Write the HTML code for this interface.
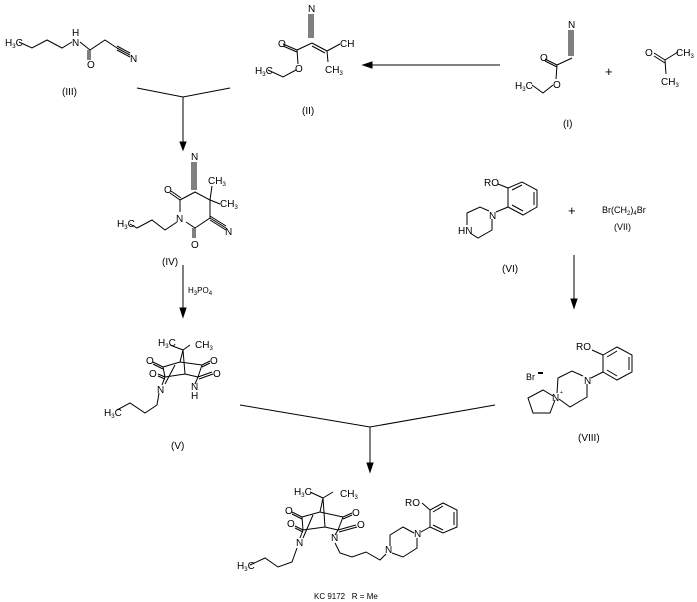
<!DOCTYPE html>
<html><head><meta charset="utf-8"><style>
html,body{margin:0;padding:0;background:#fff;}
svg{display:block;}
text{font-family:"Liberation Sans",Arial,sans-serif;font-size:10px;fill:#000;}
.s{font-size:6px;}
</style></head><body>
<svg width="697" height="602" viewBox="0 0 697 602" xmlns="http://www.w3.org/2000/svg">
<g stroke="#000" stroke-width="1" fill="none">
<!-- III -->
<polyline points="19,42 32,48 47,40 62,48 72,42"/>
<polyline points="80,42 90,50 105,40 117,48"/>
<line x1="90" y1="50" x2="90" y2="60"/><line x1="88" y1="50" x2="88" y2="60"/>
<line x1="117" y1="48" x2="130" y2="55"/><line x1="117" y1="46" x2="130" y2="53"/><line x1="117" y1="50" x2="130" y2="57"/>
<!-- fork to IV -->
<polyline points="137,88 183,97 230,88"/><line x1="183" y1="97" x2="183" y2="148"/>
<path d="M180,142 L183,150 L186,142 Z" fill="#000"/>
<!-- II -->
<line x1="311" y1="14" x2="311" y2="38"/><line x1="313" y1="14" x2="313" y2="38"/><line x1="309" y1="14" x2="309" y2="38"/>
<line x1="312" y1="43" x2="297" y2="50"/><line x1="297" y1="50" x2="283" y2="44"/><line x1="297" y1="52" x2="283" y2="46"/>
<line x1="297" y1="50" x2="298" y2="64"/><polyline points="296,70 283,77 268,70"/>
<line x1="312" y1="43" x2="327" y2="51"/><line x1="312" y1="46" x2="325" y2="53"/>
<line x1="327" y1="51" x2="340" y2="44"/><line x1="327" y1="51" x2="328" y2="62"/>
<!-- arrow I->II -->
<line x1="500" y1="65" x2="366" y2="65"/><path d="M372,62 L363,65 L372,68 Z" fill="#000"/>
<!-- I -->
<line x1="571" y1="30" x2="571" y2="56"/><line x1="573" y1="30" x2="573" y2="56"/><line x1="569" y1="30" x2="569" y2="56"/>
<line x1="572" y1="58" x2="557" y2="65"/><line x1="557" y1="65" x2="545" y2="59"/><line x1="557" y1="67" x2="545" y2="61"/>
<line x1="557" y1="65" x2="556" y2="79"/><polyline points="553,85 543,93 532,85"/>
<!-- acetone -->
<line x1="654" y1="53" x2="665" y2="60"/><line x1="654" y1="56" x2="665" y2="63"/>
<line x1="665" y1="60" x2="678" y2="52"/><line x1="665" y1="60" x2="666" y2="74"/>
<!-- IV -->
<line x1="194" y1="162" x2="194" y2="190"/><line x1="196" y1="162" x2="196" y2="190"/><line x1="192" y1="162" x2="192" y2="190"/>
<polyline points="180,200 195,192 210,200 210,218 195,228"/>
<line x1="180" y1="200" x2="180" y2="212"/><line x1="195" y1="228" x2="186" y2="222"/>
<line x1="180" y1="200" x2="170" y2="193"/><line x1="181" y1="198" x2="171" y2="191"/>
<line x1="195" y1="228" x2="195" y2="238"/><line x1="193" y1="228" x2="193" y2="238"/>
<line x1="210" y1="200" x2="212" y2="186"/><line x1="210" y1="200" x2="220" y2="204"/>
<line x1="210" y1="218" x2="226" y2="228"/><line x1="210" y1="216" x2="226" y2="226"/><line x1="210" y1="220" x2="226" y2="230"/>
<polyline points="177,222 165,230 152,220 137,228 130,224"/>
<!-- arrow IV->V -->
<line x1="183" y1="265" x2="183" y2="314"/><path d="M180,308 L183,317 L186,308 Z" fill="#000"/>
<!-- V cage -->
<line x1="170" y1="345" x2="183" y2="350"/><line x1="183" y1="350" x2="190" y2="345"/>
<polyline points="163,367 180,362 202,365"/><line x1="183" y1="350" x2="180" y2="362"/>
<line x1="183" y1="350" x2="185" y2="374"/>
<polyline points="165,377 185,374 198,377"/><line x1="163" y1="367" x2="165" y2="377"/><line x1="202" y1="365" x2="198" y2="377"/>
<line x1="163" y1="367" x2="153" y2="362"/><line x1="163" y1="369" x2="153" y2="364"/>
<line x1="202" y1="365" x2="210" y2="361"/><line x1="202" y1="367" x2="210" y2="363"/>
<line x1="165" y1="377" x2="158" y2="374"/><line x1="165" y1="379" x2="158" y2="376"/><line x1="165" y1="377" x2="162" y2="385"/>
<line x1="198" y1="377" x2="195" y2="384"/><line x1="198" y1="377" x2="212" y2="372"/><line x1="199" y1="379" x2="213" y2="374"/>
<line x1="175" y1="365" x2="165" y2="384"/>
<polyline points="159,393 157,405 145,413 130,403 117,410"/>
<!-- big fork -->
<polyline points="240,405 370,427 495,405"/><line x1="370" y1="427" x2="370" y2="469"/>
<path d="M367,463 L370,472 L373,463 Z" fill="#000"/>
<!-- final cage -->
<line x1="310" y1="492" x2="323" y2="498"/><line x1="323" y1="498" x2="333" y2="492"/>
<polyline points="302,517 320,512 343,517"/><line x1="323" y1="498" x2="320" y2="512"/>
<line x1="323" y1="498" x2="325" y2="527"/>
<polyline points="303,530 325,527 338,530"/><line x1="302" y1="517" x2="303" y2="530"/><line x1="343" y1="517" x2="338" y2="530"/>
<line x1="302" y1="517" x2="292" y2="512"/><line x1="302" y1="519" x2="292" y2="514"/>
<line x1="343" y1="517" x2="352" y2="513"/><line x1="343" y1="519" x2="352" y2="515"/>
<line x1="303" y1="530" x2="295" y2="526"/><line x1="303" y1="532" x2="295" y2="528"/><line x1="303" y1="530" x2="300" y2="538"/>
<line x1="338" y1="530" x2="335" y2="535"/><line x1="338" y1="530" x2="356" y2="525"/><line x1="339" y1="532" x2="357" y2="527"/>
<line x1="313" y1="515" x2="303" y2="538"/>
<polyline points="297,548 292,562 278,567 265,558 250,565"/>
<polyline points="335,543 340,553 352,557 366,552 380,560 386,554"/>
<polyline points="390,546 390,535 403,527 414,533"/><polyline points="417,538 417,548 403,557 392,553"/>
<line x1="421" y1="532" x2="430" y2="527"/>
<polygon points="430,527 430,510 443,503 457,510 457,527 443,533"/>
<line x1="433" y1="512" x2="443" y2="506"/><line x1="454" y1="512" x2="454" y2="525"/><line x1="433" y1="525" x2="443" y2="530"/>
<line x1="422" y1="503" x2="430" y2="510"/>
<!-- VI -->
<polygon points="508,188 522,182 537,190 537,207 523,215 508,207"/>
<line x1="512" y1="190" x2="522" y2="185"/><line x1="534" y1="192" x2="534" y2="205"/><line x1="512" y1="205" x2="523" y2="211"/>
<line x1="498" y1="184" x2="508" y2="188"/><line x1="496" y1="212" x2="508" y2="207"/>
<polyline points="489,211 480,207 467,213 467,225"/><polyline points="470,233 478,238 492,230 492,219"/>
<!-- arrow VI->VIII -->
<line x1="574" y1="255" x2="574" y2="305"/><path d="M571,299 L574,308 L577,299 Z" fill="#000"/>
<!-- VIII -->
<polygon points="603,355 617,347 632,355 632,372 617,380 603,372"/>
<line x1="607" y1="357" x2="617" y2="351"/><line x1="629" y1="357" x2="629" y2="370"/><line x1="607" y1="370" x2="617" y2="376"/>
<line x1="592" y1="350" x2="603" y2="355"/><line x1="591" y1="378" x2="603" y2="372"/>
<polyline points="583,376 572,371 558,378 557,393"/><polyline points="559,399 570,407 587,397 587,384"/>
<polyline points="553,396 543,390 528,398 533,413 550,413 555,400"/>
</g>
<g>
<text x="5" y="46">H<tspan class="s" dy="2">3</tspan><tspan dy="-2">C</tspan></text>
<text x="72" y="46">N</text><text x="72" y="36">H</text>
<text x="87" y="68">O</text><text x="130" y="62">N</text>
<text x="62" y="95">(III)</text>
<text x="308" y="12">N</text><text x="278" y="47">O</text><text x="295" y="72">O</text>
<text x="255" y="74">H<tspan class="s" dy="2">3</tspan><tspan dy="-2">C</tspan></text>
<text x="340" y="47">CH</text><text x="325" y="73">CH<tspan class="s" dy="2">3</tspan></text>
<text x="302" y="114">(II)</text>
<text x="568" y="28">N</text><text x="540" y="61">O</text><text x="553" y="88">O</text>
<text x="515" y="89">H<tspan class="s" dy="2">3</tspan><tspan dy="-2">C</tspan></text>
<text x="563" y="127">(I)</text>
<text x="605" y="76" style="font-size:13px">+</text>
<text x="645" y="56">O</text><text x="676" y="56">CH<tspan class="s" dy="2">3</tspan></text><text x="661" y="85">CH<tspan class="s" dy="2">3</tspan></text>
<text x="191" y="160">N</text><text x="164" y="193">O</text><text x="208" y="184">CH<tspan class="s" dy="2">3</tspan></text>
<text x="220" y="207">CH<tspan class="s" dy="2">3</tspan></text><text x="176" y="222">N</text>
<text x="225" y="235">N</text><text x="191" y="248">O</text>
<text x="117" y="227">H<tspan class="s" dy="2">3</tspan><tspan dy="-2">C</tspan></text>
<text x="162" y="265">(IV)</text>
<text x="188" y="293" style="font-size:8px">H<tspan class="s" dy="2">3</tspan><tspan dy="-2">PO</tspan><tspan class="s" dy="2">4</tspan></text>
<text x="158" y="346">H<tspan class="s" dy="2">3</tspan><tspan dy="-2">C</tspan></text><text x="195" y="348">CH<tspan class="s" dy="2">3</tspan></text>
<text x="146" y="364">O</text><text x="210" y="364">O</text><text x="149" y="377">O</text><text x="213" y="377">O</text>
<text x="157" y="393">N</text><text x="191" y="390">N</text><text x="191" y="399">H</text>
<text x="104" y="416">H<tspan class="s" dy="2">3</tspan><tspan dy="-2">C</tspan></text>
<text x="171" y="449">(V)</text>
<text x="484" y="186">RO</text><text x="489" y="219">N</text><text x="458" y="234">HN</text>
<text x="502" y="272">(VI)</text>
<text x="568" y="215" style="font-size:13px">+</text>
<text x="602" y="213" style="font-size:9px">Br(CH<tspan class="s" dy="2">2</tspan><tspan dy="-2">)</tspan><tspan class="s" dy="2">4</tspan><tspan dy="-2">Br</tspan></text>
<text x="614" y="230" style="font-size:9px">(VII)</text>
<text x="576" y="350">RO</text><text x="584" y="384">N</text><text x="552" y="401">N</text>
<text x="560" y="394" style="font-size:5px">+</text>
<text x="526" y="380" style="font-size:9px">Br</text><rect x="538" y="372" width="5" height="2" fill="#000"/>
<text x="578" y="441">(VIII)</text>
<text x="294" y="495">H<tspan class="s" dy="2">3</tspan><tspan dy="-2">C</tspan></text><text x="340" y="497">CH<tspan class="s" dy="2">3</tspan></text>
<text x="285" y="514">O</text><text x="352" y="516">O</text><text x="287" y="527">O</text><text x="357" y="528">O</text>
<text x="296" y="546">N</text><text x="331" y="541">N</text>
<text x="385" y="553">N</text><text x="414" y="537">N</text><text x="405" y="506">RO</text>
<text x="237" y="569">H<tspan class="s" dy="2">3</tspan><tspan dy="-2">C</tspan></text>
<text x="314" y="599" style="font-size:8px">KC 9172&#160;&#160;&#160;R = Me</text>
</g>
</svg>
</body></html>
